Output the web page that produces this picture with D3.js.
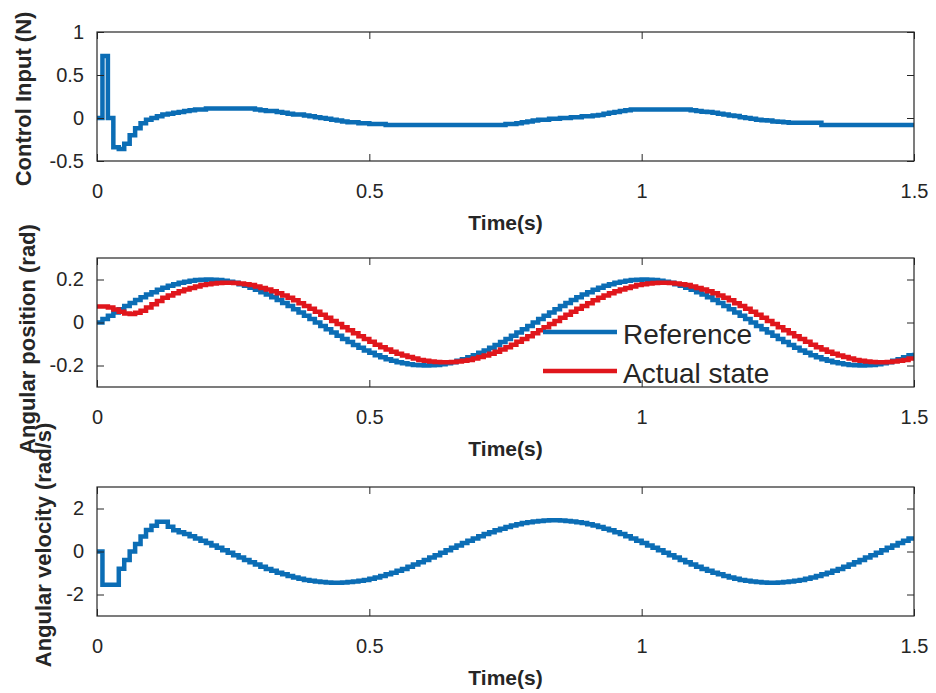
<!DOCTYPE html>
<html>
<head>
<meta charset="utf-8">
<script src="https://cdn.jsdelivr.net/npm/d3@7"></script>
<style>
  body { margin: 0; background: #fff; }
  text { font-family: 'Liberation Sans', Arial, Helvetica, sans-serif; }
  .tick text { font-size: 20px; fill: #262626; }
  .tick line { stroke: #262626; }
  .ylabel, .xlabel { font-weight: bold; fill: #262626; }
</style>
</head>
<body>
<div id="chart"></div>
<script>
// sample period of the simulation (s)
const dt = 0.01;

const xTicks = [0, 0.5, 1, 1.5];

const controlInput = [
  0, 0.72, 0, -0.34, -0.36, -0.3, -0.2, -0.12, -0.06, -0.02,
  0, 0.02, 0.04, 0.05, 0.06, 0.07, 0.08, 0.09, 0.1, 0.1,
  0.11, 0.11, 0.11, 0.11, 0.11, 0.11, 0.11, 0.11, 0.11, 0.1,
  0.09, 0.08, 0.08, 0.07, 0.06, 0.05, 0.04, 0.04, 0.03, 0.02,
  0.01, 0, -0.01, -0.02, -0.03, -0.04, -0.05, -0.05, -0.06, -0.06,
  -0.07, -0.07, -0.07, -0.08, -0.08, -0.08, -0.08, -0.08, -0.08, -0.08,
  -0.08, -0.08, -0.08, -0.08, -0.08, -0.08, -0.08, -0.08, -0.08, -0.08,
  -0.08, -0.08, -0.08, -0.08, -0.08, -0.07, -0.07, -0.06, -0.05, -0.04,
  -0.03, -0.02, -0.02, -0.01, -0.01, 0, 0, 0.01, 0.01, 0.02,
  0.02, 0.03, 0.035, 0.05, 0.06, 0.07, 0.08, 0.09, 0.1, 0.1,
  0.1, 0.1, 0.1, 0.1, 0.1, 0.1, 0.1, 0.1, 0.1, 0.09,
  0.08, 0.074, 0.07, 0.06, 0.05, 0.04, 0.03, 0.023, 0.01, 0,
  -0.01, -0.02, -0.025, -0.03, -0.04, -0.045, -0.05, -0.054, -0.054, -0.054,
  -0.054, -0.054, -0.054, -0.08, -0.08, -0.08, -0.08, -0.08, -0.08, -0.08,
  -0.08, -0.08, -0.08, -0.08, -0.08, -0.08, -0.08, -0.08, -0.08, -0.08,
  -0.08
];

const referencePos = [
  0, .016, .031, .047, .062, .077, .091, .105, .118, .130,
  .141, .152, .162, .171, .178, .185, .190, .194, .198, .199,
  .2, .199, .198, .194, .190, .185, .178, .171, .162, .152,
  .141, .130, .118, .105, .091, .077, .062, .047, .031, .016,
  0, -.016, -.031, -.047, -.062, -.077, -.091, -.105, -.118, -.130,
  -.141, -.152, -.162, -.171, -.178, -.185, -.190, -.194, -.198, -.199,
  -.2, -.199, -.198, -.194, -.190, -.185, -.178, -.171, -.162, -.152,
  -.141, -.130, -.118, -.105, -.091, -.077, -.062, -.047, -.031, -.016,
  0, .016, .031, .047, .062, .077, .091, .105, .118, .130,
  .141, .152, .162, .171, .178, .185, .190, .194, .198, .199,
  .2, .199, .198, .194, .190, .185, .178, .171, .162, .152,
  .141, .130, .118, .105, .091, .077, .062, .047, .031, .016,
  0, -.016, -.031, -.047, -.062, -.077, -.091, -.105, -.118, -.130,
  -.141, -.152, -.162, -.171, -.178, -.185, -.190, -.194, -.198, -.199,
  -.2, -.199, -.198, -.194, -.190, -.185, -.178, -.171, -.162, -.152,
  -.141
];

const actualPos = [
  .075, .075, .07, .06, .05, .042, .04, .045, .055, .07,
  .085, .1, .115, .126, .136, .145, .154, .161, .168, .174,
  .178, .181, .184, .185, .185, .184, .181, .178, .174, .168,
  .161, .154, .145, .136, .126, .115, .103, .090, .077, .064,
  .050, .036, .022, .007, -.007, -.022, -.036, -.050, -.064, -.077,
  -.090, -.103, -.115, -.126, -.136, -.145, -.154, -.161, -.168, -.174,
  -.178, -.181, -.184, -.185, -.185, -.184, -.181, -.178, -.174, -.168,
  -.161, -.154, -.145, -.136, -.126, -.115, -.103, -.090, -.077, -.064,
  -.050, -.036, -.022, -.007, .007, .022, .036, .050, .064, .077,
  .090, .103, .115, .126, .136, .145, .154, .161, .168, .174,
  .178, .181, .184, .185, .185, .184, .181, .178, .174, .168,
  .161, .154, .145, .136, .126, .115, .103, .090, .077, .064,
  .050, .036, .022, .007, -.007, -.022, -.036, -.050, -.064, -.077,
  -.090, -.103, -.115, -.126, -.136, -.145, -.154, -.161, -.168, -.174,
  -.178, -.181, -.184, -.185, -.185, -.184, -.181, -.178, -.174, -.168,
  -.161
];

const angularVel = [
  0, -1.55, -1.55, -1.55, -0.8, -0.4, 0, 0.35, 0.7, 1.0,
  1.2, 1.38, 1.38, 1.15, .985, .90, .81, .71, .61, .50,
  .39, .28, .17, .06, -.06, -.17, -.28, -.39, -.50, -.61,
  -.71, -.81, -.90, -.985, -1.06, -1.14, -1.205, -1.27, -1.32, -1.36,
  -1.39, -1.42, -1.44, -1.45, -1.45, -1.44, -1.42, -1.39, -1.36, -1.32,
  -1.27, -1.205, -1.14, -1.06, -.985, -.90, -.81, -.71, -.61, -.50,
  -.39, -.28, -.17, -.06, .06, .17, .28, .39, .50, .61,
  .71, .81, .90, .985, 1.06, 1.14, 1.205, 1.27, 1.32, 1.36,
  1.39, 1.42, 1.44, 1.45, 1.45, 1.44, 1.42, 1.39, 1.36, 1.32,
  1.27, 1.205, 1.14, 1.06, .985, .90, .81, .71, .61, .50,
  .39, .28, .17, .06, -.06, -.17, -.28, -.39, -.50, -.61,
  -.71, -.81, -.90, -.985, -1.06, -1.14, -1.205, -1.27, -1.32, -1.36,
  -1.39, -1.42, -1.44, -1.45, -1.45, -1.44, -1.42, -1.39, -1.36, -1.32,
  -1.27, -1.205, -1.14, -1.06, -.985, -.90, -.81, -.71, -.61, -.50,
  -.39, -.28, -.17, -.06, .06, .17, .28, .39, .50, .61,
  .71
];

const legendLabels = ["Reference", "Actual state"];

var blue = "#0b6db5",
  red = "#e0161c";

var panels = [
  {ylabel: "Control Input (N)", domain: [-0.5, 1], ticks: [-0.5, 0, 0.5, 1],
   series: [{values: controlInput, color: blue}],
   top: 32, labelX: 31, labelY: 99},
  {ylabel: "Angular position (rad)", domain: [-0.3, 0.3], ticks: [-0.2, 0, 0.2],
   series: [{values: referencePos, color: blue}, {values: actualPos, color: red}],
   top: 258, labelX: 35, labelY: 339, legend: true},
  {ylabel: "Angular velocity (rad/s)", domain: [-3, 3], ticks: [-2, 0, 2],
   series: [{values: angularVel, color: blue}],
   top: 487, labelX: 51, labelY: 545}
];

var width = 936, height = 693;
var left = 97, right = 914, plotH = 129;

var svg = d3.select("#chart")
  .append("svg")
  .attr("width", width)
  .attr("height", height)
  .style("background", "#fff");

var x = d3.scaleLinear()
  .domain([0, 1.5])
  .range([left, right]);

panels.forEach((p, k) => {
  var y = d3.scaleLinear()
    .domain(p.domain)
    .range([p.top + plotH, p.top]);

  var g = svg.append("g");

  g.append("clipPath")
    .attr("id", "clip" + k)
    .append("rect")
    .attr("x", left)
    .attr("y", p.top)
    .attr("width", right - left)
    .attr("height", plotH);

  var line = d3.line()
    .x((d, i) => x(i * dt))
    .y(d => y(d))
    .curve(d3.curveStepAfter);

  p.series.forEach(s => {
    g.append("path")
      .attr("clip-path", "url(#clip" + k + ")")
      .attr("d", line(s.values))
      .attr("fill", "none")
      .attr("stroke", s.color)
      .attr("stroke-width", 4.5);
  });

  // axes, ticks pointing inward like matlab
  g.append("g")
    .attr("transform", `translate(0,${p.top + plotH})`)
    .call(d3.axisBottom(x).tickValues(xTicks).tickSize(-7).tickPadding(23).tickFormat(String))
    .call(a => a.select(".domain").remove());

  g.append("g")
    .attr("transform", `translate(0,${p.top})`)
    .call(d3.axisTop(x).tickValues(xTicks).tickSize(-7).tickFormat(""))
    .call(a => a.select(".domain").remove());

  g.append("g")
    .attr("transform", `translate(${left},0)`)
    .call(d3.axisLeft(y).tickValues(p.ticks).tickSize(-7).tickPadding(13).tickFormat(String))
    .call(a => a.select(".domain").remove());

  g.append("g")
    .attr("transform", `translate(${right},0)`)
    .call(d3.axisRight(y).tickValues(p.ticks).tickSize(-7).tickFormat(""))
    .call(a => a.select(".domain").remove());

  g.selectAll(".tick text").attr("font-family", null).attr("font-size", null);

  g.append("rect")
    .attr("x", left)
    .attr("y", p.top)
    .attr("width", right - left)
    .attr("height", plotH)
    .attr("fill", "none")
    .attr("stroke", "#262626")
    .attr("stroke-width", 1.2);

  g.append("text")
    .attr("class", "xlabel")
    .attr("x", (left + right) / 2)
    .attr("y", p.top + plotH + 69)
    .attr("text-anchor", "middle")
    .attr("font-size", 21)
    .text("Time(s)");

  g.append("text")
    .attr("class", "ylabel")
    .attr("transform", `translate(${p.labelX},${p.labelY}) rotate(-90)`)
    .attr("text-anchor", "middle")
    .attr("font-size", 22)
    .text(p.ylabel);

  if (p.legend) {
    var item = g.selectAll(".legend")
      .data(legendLabels)
      .enter()
      .append("g")
      .attr("class", "legend")
      .attr("transform", (d, i) => `translate(543,${332 + i * 39})`);

    item.append("line")
      .attr("x1", 0)
      .attr("x2", 74)
      .attr("stroke", (d, i) => p.series[i].color)
      .attr("stroke-width", 4.5);

    item.append("text")
      .attr("x", 80)
      .attr("y", 12)
      .attr("font-size", 28)
      .attr("fill", "#262626")
      .text(d => d);
  }
});
</script>
</body>
</html>
